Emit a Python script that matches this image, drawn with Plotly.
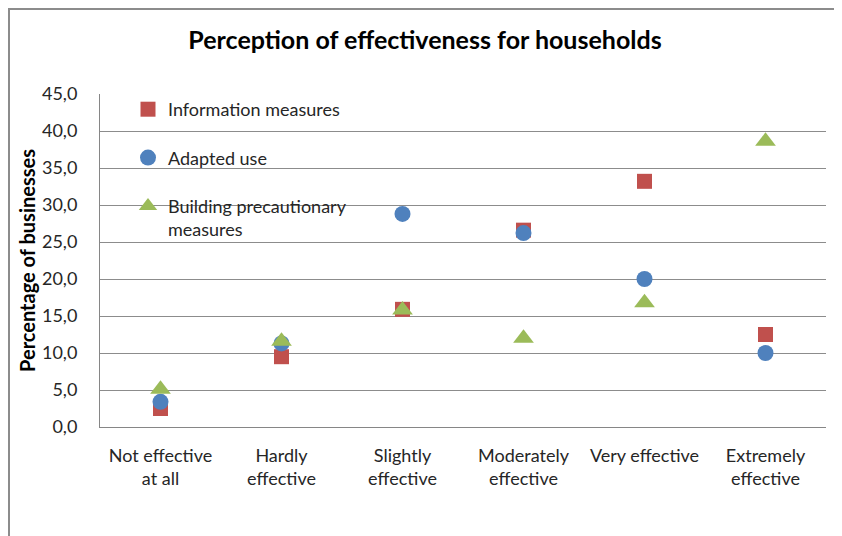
import plotly.graph_objects as go

categories = ["Not effective<br>at all", "Hardly<br>effective", "Slightly<br>effective",
              "Moderately<br>effective", "Very effective", "Extremely<br>effective"]
info_measures = [2.5, 9.5, 15.9, 26.6, 33.2, 12.5]
adapted_use = [3.4, 11.3, 28.8, 26.2, 20.0, 10.0]
building_measures = [5.1, 11.6, 15.8, 12.0, 16.8, 38.6]
y_ticks = [0, 5, 10, 15, 20, 25, 30, 35, 40, 45]

FONT = "Lato"
W, H = 834, 528          # page body adds an 8px margin
ML, MR, MT, MB = 92, 16, 86, 109
PW = W - ML - MR
PH = H - MT - MB

fig = go.Figure()
series = [
    ("Information measures", info_measures, "square", "#C0504D", 15),
    ("Adapted use", adapted_use, "circle", "#4F81BD", 16),
    ("Building precautionary<br>measures", building_measures, "triangle-up", "#9BBB59", 18),
]
for i, (name, vals, sym, col, sz) in enumerate(series):
    fig.add_trace(go.Scatter(
        x=categories, y=vals, mode="markers", name=name,
        legendgroup=str(i),
        marker=dict(symbol=sym, color=col, size=sz, line=dict(width=0)),
    ))

fig.update_layout(
    width=W, height=H,
    margin=dict(l=ML, r=MR, t=MT, b=MB),
    paper_bgcolor="white", plot_bgcolor="white",
    separators=",.",
    font=dict(family=FONT, size=18, color="#262626"),
    title=dict(text="<b>Perception of effectiveness for households</b>",
               x=0.5, xanchor="center", y=1 - 32 / H, yanchor="middle",
               font=dict(family=FONT, size=25, color="black")),
    showlegend=True,
    legend=dict(x=28 / PW, y=1.009, xanchor="left", yanchor="top",
                bgcolor="rgba(0,0,0,0)", tracegroupgap=22, valign="top",
                font=dict(family=FONT, size=18, color="#262626"),
                itemwidth=30),
    xaxis=dict(type="category", range=[-0.5, 5.5], showgrid=False,
               showline=True, linecolor="#868686", linewidth=1,
               ticks="", ticklabelstandoff=12,
               tickfont=dict(family=FONT, size=18, color="#262626")),
    yaxis=dict(range=[0, 45], tickvals=y_ticks, tickformat=".1f",
               showgrid=True, gridcolor="#8C8C8C", gridwidth=1,
               showline=True, linecolor="#868686", linewidth=1,
               ticks="", ticklabelstandoff=18,
               zeroline=False,
               tickfont=dict(family=FONT, size=18, color="#262626"),
               title=dict(text="<b>Percentage of businesses</b>",
                          font=dict(family=FONT, size=20, color="black"),
                          standoff=0)),
    shapes=[dict(type="rect", xref="paper", yref="paper",
                 x0=-(ML - 1) / PW, x1=(W + 20 - ML) / PW,
                 y0=-(MB - 0) / PH - 0.01, y1=1 + (MT - 1) / PH,
                 line=dict(color="#8C8C8C", width=2), fillcolor="rgba(0,0,0,0)",
                 layer="below")],
)

fig.write_html("out.html")
